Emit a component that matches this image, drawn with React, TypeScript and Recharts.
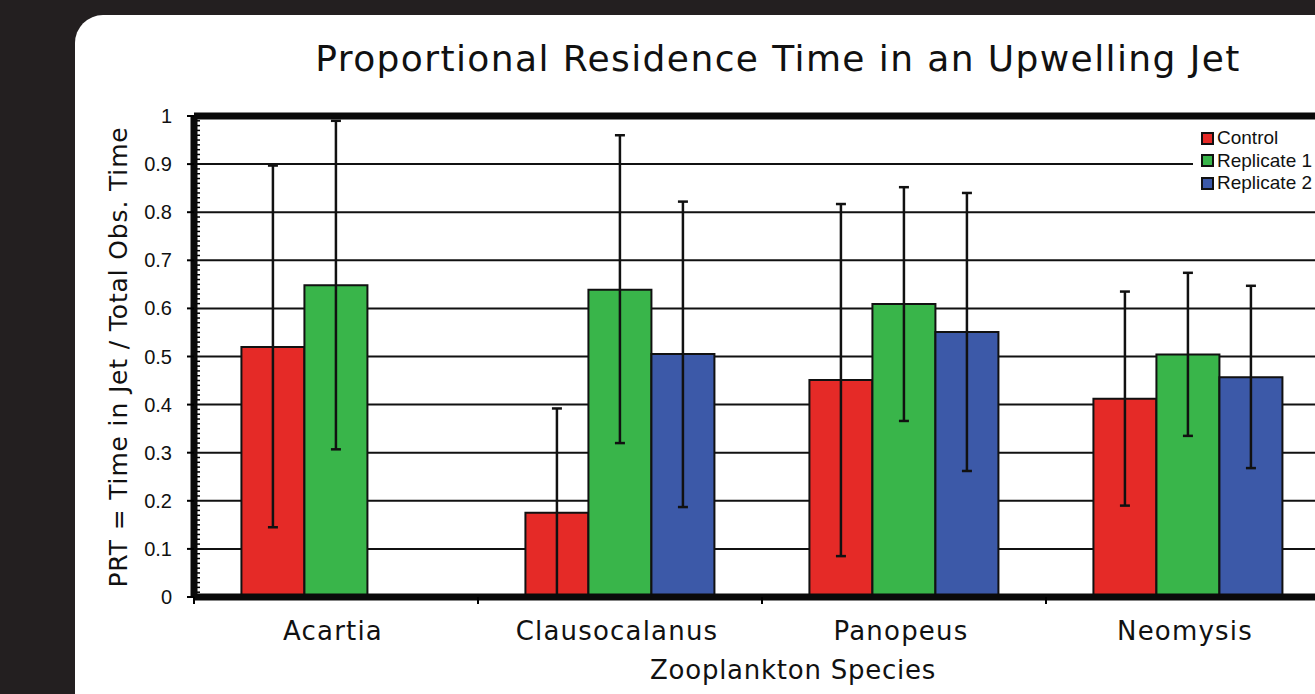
import { BarChart, Bar, XAxis, YAxis, CartesianGrid, ErrorBar, ReferenceLine } from 'recharts';

// Species observed in the jet
const species = ['Acartia', 'Clausocalanus', 'Panopeus', 'Neomysis'];

// Mean PRT per treatment, with the low / high ends of each error bar
const control = [0.52, 0.175, 0.451, 0.412];
const controlLow = [0.145, 0, 0.085, 0.19];
const controlHigh = [0.897, 0.392, 0.817, 0.635];

const replicate1 = [0.648, 0.639, 0.609, 0.504];
const replicate1Low = [0.307, 0.32, 0.366, 0.335];
const replicate1High = [0.99, 0.96, 0.852, 0.674];

const replicate2 = [null, 0.505, 0.551, 0.457];
const replicate2Low = [null, 0.187, 0.262, 0.268];
const replicate2High = [null, 0.822, 0.84, 0.647];

const gridValues = [0.1, 0.2, 0.3, 0.4, 0.5, 0.6, 0.7, 0.8, 0.9];
// every 0.01; the labelled ones (multiples of 0.1) get a long outer tick
const yTicks = Array.from({ length: 101 }, (_, i) => i / 100);

const seriesInfo = [
  { key: 'control', name: 'Control', color: '#e52a27' },
  { key: 'rep1', name: 'Replicate 1', color: '#39b54a' },
  { key: 'rep2', name: 'Replicate 2', color: '#3c59a8' },
];

const err = (v: number | null, lo: number | null, hi: number | null) =>
  v == null || lo == null || hi == null ? undefined : [v - lo, hi - v];

const data = species.map((name, i) => ({
  name,
  control: control[i],
  controlErr: err(control[i], controlLow[i], controlHigh[i]),
  rep1: replicate1[i],
  rep1Err: err(replicate1[i], replicate1Low[i], replicate1High[i]),
  rep2: replicate2[i],
  rep2Err: err(replicate2[i], replicate2Low[i], replicate2High[i]),
}));

const CHART_W = 1400;
const CHART_H = 694;
const PLOT_LEFT = 194;
const PLOT_RIGHT = 1330;
const PLOT_TOP = 116;
const PLOT_BOTTOM = 597;
const HALF_BAND = (PLOT_RIGHT - PLOT_LEFT) / species.length / 2;

const gothic = '"DejaVu Sans", sans-serif';
const arial = '"Liberation Sans", Arial, sans-serif';

function YTick(props: any) {
  const { x, y, payload } = props;
  const v = Math.round(payload.value * 100);
  if (v % 10 === 0) {
    return (
      <g>
        <line x1={x - 7} x2={x} y1={y} y2={y} stroke="#000" strokeWidth={2} />
        <text x={x - 22} y={y} dy={7} textAnchor="end" fontFamily={arial} fontSize={20} fill="#111">
          {payload.value}
        </text>
      </g>
    );
  }
  return <line x1={x + 3} x2={x + 6} y1={y} y2={y} stroke="#000" strokeWidth={1.5} />;
}

function XTick(props: any) {
  const { x, y, payload } = props;
  return (
    <g>
      <line x1={x - HALF_BAND} x2={x - HALF_BAND} y1={y} y2={y + 7} stroke="#000" strokeWidth={2} />
      <text x={x - 3} y={y + 43} textAnchor="middle" fontFamily={gothic} fontSize={26} letterSpacing={1.2} fill="#111">
        {payload.value}
      </text>
    </g>
  );
}

function LegendBox() {
  return (
    <div style={{ position: 'absolute', left: 1193, top: 124, background: '#fff', padding: '3px 0 6px 8px', width: 140 }}>
      {seriesInfo.map((s) => (
        <div key={s.key} style={{ display: 'flex', alignItems: 'center', height: 22.5 }}>
          <span
            style={{
              width: 9,
              height: 9,
              background: s.color,
              border: '2px solid #111',
              marginRight: 3,
              flex: 'none',
            }}
          />
          <span style={{ fontFamily: arial, fontSize: 19, color: '#111', whiteSpace: 'nowrap' }}>{s.name}</span>
        </div>
      ))}
    </div>
  );
}

export default function App() {
  return (
    <div
      style={{
        position: 'absolute',
        left: 0,
        top: 0,
        width: 1315,
        height: 694,
        background: '#231f20',
        overflow: 'hidden',
      }}
    >
      <div
        style={{
          position: 'absolute',
          left: 75,
          top: 15,
          width: 1400,
          height: 800,
          background: '#fff',
          borderRadius: 28,
        }}
      />
      <div
        style={{
          position: 'absolute',
          left: 778,
          top: 38,
          transform: 'translateX(-50%)',
          fontFamily: gothic,
          fontSize: 36,
          letterSpacing: 1.4,
          color: '#111',
          whiteSpace: 'nowrap',
        }}
      >
        Proportional Residence Time in an Upwelling Jet
      </div>
      <div
        style={{
          position: 'absolute',
          left: 118,
          top: 357,
          transform: 'translate(-50%, -50%) rotate(-90deg)',
          fontFamily: gothic,
          fontSize: 25,
          letterSpacing: 0.85,
          color: '#111',
          whiteSpace: 'nowrap',
        }}
      >
        PRT = Time in Jet / Total Obs. Time
      </div>
      <div
        style={{
          position: 'absolute',
          left: 793,
          top: 655,
          transform: 'translateX(-50%)',
          fontFamily: gothic,
          fontSize: 26,
          letterSpacing: 0.75,
          color: '#111',
          whiteSpace: 'nowrap',
        }}
      >
        Zooplankton Species
      </div>
      <div style={{ position: 'absolute', left: 0, top: 0 }}>
        <BarChart
          width={CHART_W}
          height={CHART_H}
          data={data}
          margin={{ top: PLOT_TOP, right: CHART_W - PLOT_RIGHT, bottom: CHART_H - PLOT_BOTTOM - 30, left: 0 }}
          barCategoryGap="16.7%"
          barGap={0}
        >
          <CartesianGrid vertical={false} horizontalValues={gridValues} stroke="#111" strokeWidth={2} />
          <XAxis
            dataKey="name"
            height={30}
            axisLine={{ stroke: '#0a0a0a', strokeWidth: 7 }}
            tickLine={false}
            tickSize={0}
            tickMargin={0}
            tick={<XTick />}
            interval={0}
          />
          <YAxis
            width={PLOT_LEFT}
            domain={[0, 1]}
            ticks={yTicks}
            interval={0}
            axisLine={{ stroke: '#0a0a0a', strokeWidth: 7 }}
            tickLine={false}
            tickSize={0}
            tickMargin={0}
            tick={<YTick />}
          />
          <ReferenceLine y={1} stroke="#0a0a0a" strokeWidth={7} />
          {seriesInfo.map((s) => (
            <Bar
              key={s.key}
              dataKey={s.key}
              name={s.name}
              fill={s.color}
              stroke="#111"
              strokeWidth={2}
              isAnimationActive={false}
            >
              <ErrorBar dataKey={`${s.key}Err`} width={5} stroke="#111" strokeWidth={2.5} />
            </Bar>
          ))}
        </BarChart>
      </div>
      <LegendBox />
    </div>
  );
}
